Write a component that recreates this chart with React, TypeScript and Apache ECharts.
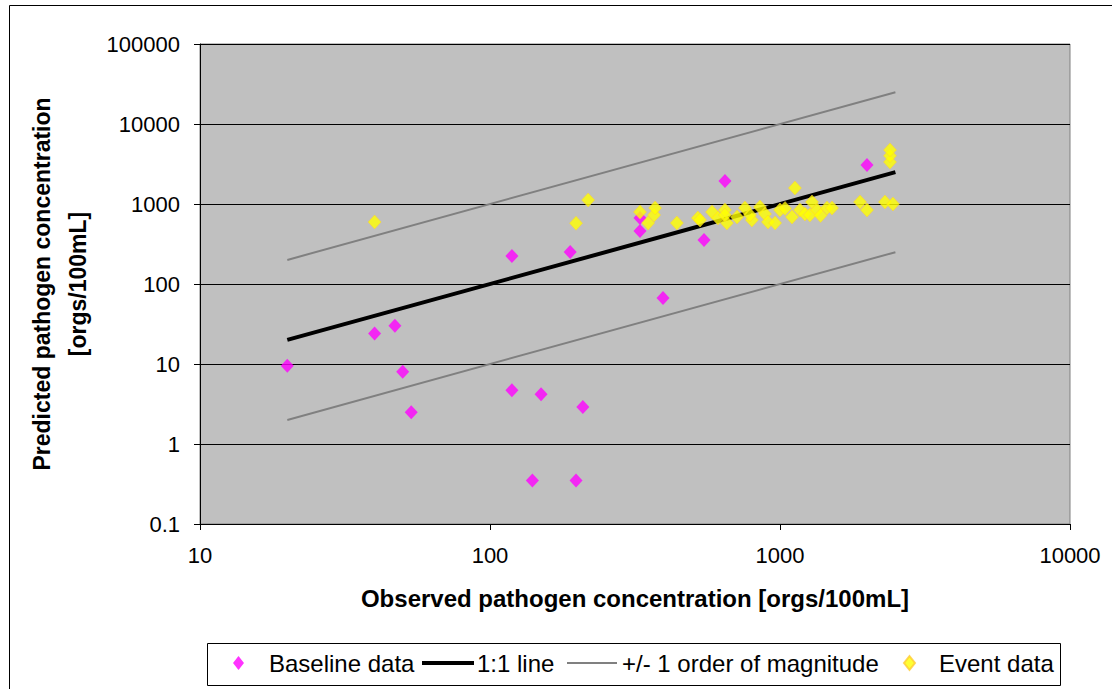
import React, { useEffect, useRef } from "react";
import * as echarts from "echarts";

// Observed vs predicted concentrations [orgs/100mL]
const baselineData: [number, number][] = [
  [20, 9.5], [40, 24], [47, 30], [50, 8], [53.5, 2.5],
  [119, 224], [119, 4.7], [150, 4.2], [140, 0.35], [198, 0.35],
  [189, 251], [209, 2.9], [329, 668], [329, 459], [395, 67],
  [547, 355], [646, 1940], [1995, 3072],
];

const eventData: [number, number][] = [
  [40, 596], [198, 575], [218, 1122], [329, 794], [351, 579],
  [368, 729], [371, 891], [441, 579], [521, 668], [530, 631],
  [583, 794], [611, 668], [646, 841], [656, 579], [646, 729],
  [711, 688], [757, 891], [800, 631], [788, 729], [853, 917],
  [888, 750], [909, 596], [962, 580], [1000, 841], [1041, 880],
  [1100, 688], [1126, 1585], [1172, 841], [1219, 750], [1268, 729],
  [1289, 1059], [1342, 841], [1380, 720], [1452, 891], [1511, 891],
  [1888, 1059], [1995, 841], [2301, 1059], [2452, 1000], [2395, 3350],
  [2395, 4000], [2395, 4732],
];

// Reference lines: y = x and y = x * 10^(+/-1)
const oneToOne: [number, number][] = [[20, 20], [2500, 2500]];
const upperBound: [number, number][] = [[20, 200], [2500, 25000]];
const lowerBound: [number, number][] = [[20, 2], [2500, 250]];

const xRange = [10, 10000];
const yRange = [0.1, 100000];

const FONT = "'Liberation Sans', Arial, Helvetica, sans-serif";
const BASELINE = "Baseline data";
const ONE_TO_ONE = "1:1 line";
const BOUNDS = "+/- 1 order of magnitude";
const EVENT = "Event data";

const MAGENTA = "#FF00FF";
const YELLOW = "#FFFF00";
const BLACK = "#000000";
const GREY = "#808080";

// plain numbers, no thousands separators
const plain = (v: number) => String(Number(v.toPrecision(6)));

export default function App() {
  const ref = useRef<HTMLDivElement>(null);

  useEffect(() => {
    if (!ref.current) return;
    const chart = echarts.init(ref.current, undefined, { renderer: "svg" });

    const legendText = { fontFamily: FONT, fontSize: 24, color: "#000" };
    const legendCommon = {
      orient: "horizontal" as const,
      top: 651,
      selectedMode: false,
      padding: 0,
    };

    chart.setOption({
      animation: false,
      backgroundColor: "#ffffff",
      grid: {
        left: 200,
        top: 44,
        right: 42,
        bottom: 165,
        show: true,
        backgroundColor: "#C0C0C0",
        borderColor: GREY,
        borderWidth: 1,
      },
      xAxis: {
        type: "log",
        logBase: 10,
        min: xRange[0],
        max: xRange[1],
        name: "Observed pathogen concentration [orgs/100mL]",
        nameLocation: "middle",
        nameGap: 62,
        nameTextStyle: {
          fontFamily: FONT,
          fontSize: 24,
          fontWeight: "bold",
          color: "#000",
          verticalAlign: "top",
        },
        axisLine: { show: true, lineStyle: { color: BLACK, width: 1 } },
        axisTick: { show: true, inside: false, length: 6, lineStyle: { color: BLACK } },
        axisLabel: { fontFamily: FONT, fontSize: 22, color: "#000", margin: 20, formatter: plain },
        splitLine: { show: false },
        minorTick: { show: false },
      },
      yAxis: {
        type: "log",
        logBase: 10,
        min: yRange[0],
        max: yRange[1],
        name: "Predicted pathogen concentration\n[orgs/100mL]",
        nameLocation: "middle",
        nameRotate: 90,
        nameGap: 101,
        nameTextStyle: {
          fontFamily: FONT,
          fontSize: 23,
          fontWeight: "bold",
          color: "#000",
          lineHeight: 36,
          align: "center",
        },
        axisLine: { show: true, lineStyle: { color: BLACK, width: 1 } },
        axisTick: { show: true, inside: false, length: 6, lineStyle: { color: BLACK } },
        axisLabel: { fontFamily: FONT, fontSize: 22, color: "#000", margin: 20, formatter: plain },
        splitLine: { show: true, lineStyle: { color: BLACK, width: 1 } },
        minorTick: { show: false },
      },
      legend: [
        {
          ...legendCommon,
          left: 233,
          data: [{ name: BASELINE, icon: "diamond", itemStyle: { color: MAGENTA } }],
          itemWidth: 11,
          itemHeight: 14,
          textStyle: { ...legendText, padding: [0, 0, 0, 20] },
        },
        {
          ...legendCommon,
          left: 422,
          data: [{ name: ONE_TO_ONE, icon: "rect", itemStyle: { color: BLACK } }],
          itemWidth: 52,
          itemHeight: 4,
          textStyle: { ...legendText, padding: [0, 0, 0, -2] },
        },
        {
          ...legendCommon,
          left: 567,
          data: [{ name: BOUNDS, icon: "rect", itemStyle: { color: GREY } }],
          itemWidth: 50,
          itemHeight: 2,
          textStyle: { ...legendText, padding: [0, 0, 0, 0] },
        },
        {
          ...legendCommon,
          left: 903,
          data: [{ name: EVENT, icon: "diamond", itemStyle: { color: YELLOW } }],
          itemWidth: 11,
          itemHeight: 14,
          textStyle: { ...legendText, padding: [0, 0, 0, 19] },
        },
      ],
      graphic: [
        {
          type: "rect",
          silent: true,
          shape: { x: 9.5, y: 5.5, width: 1200, height: 800 },
          style: { fill: "none", stroke: "#000", lineWidth: 1 },
        },
        {
          type: "rect",
          silent: true,
          shape: { x: 207.5, y: 643.5, width: 853, height: 42 },
          style: { fill: "none", stroke: "#000", lineWidth: 1 },
        },
      ],
      series: [
        {
          name: BASELINE,
          type: "scatter",
          data: baselineData,
          symbol: "diamond",
          symbolSize: [13, 14],
          color: MAGENTA,
          itemStyle: { color: MAGENTA },
          z: 3,
        },
        {
          name: ONE_TO_ONE,
          type: "line",
          data: oneToOne,
          symbol: "none",
          showSymbol: false,
          color: BLACK,
          lineStyle: { color: BLACK, width: 4 },
          z: 4,
        },
        {
          name: BOUNDS,
          type: "line",
          data: upperBound,
          symbol: "none",
          showSymbol: false,
          color: GREY,
          lineStyle: { color: GREY, width: 2 },
          z: 4,
        },
        {
          name: BOUNDS,
          type: "line",
          data: lowerBound,
          symbol: "none",
          showSymbol: false,
          color: GREY,
          lineStyle: { color: GREY, width: 2 },
          z: 4,
        },
        {
          name: EVENT,
          type: "scatter",
          data: eventData,
          symbol: "diamond",
          symbolSize: [13, 14],
          color: YELLOW,
          itemStyle: { color: YELLOW, borderColor: "#FFCC33", borderWidth: 0.6 },
          z: 5,
        },
      ],
    });

    return () => chart.dispose();
  }, []);

  return (
    <div
      ref={ref}
      style={{
        position: "fixed",
        left: 0,
        top: 0,
        width: 1112,
        height: 689,
        background: "#fff",
      }}
    />
  );
}
